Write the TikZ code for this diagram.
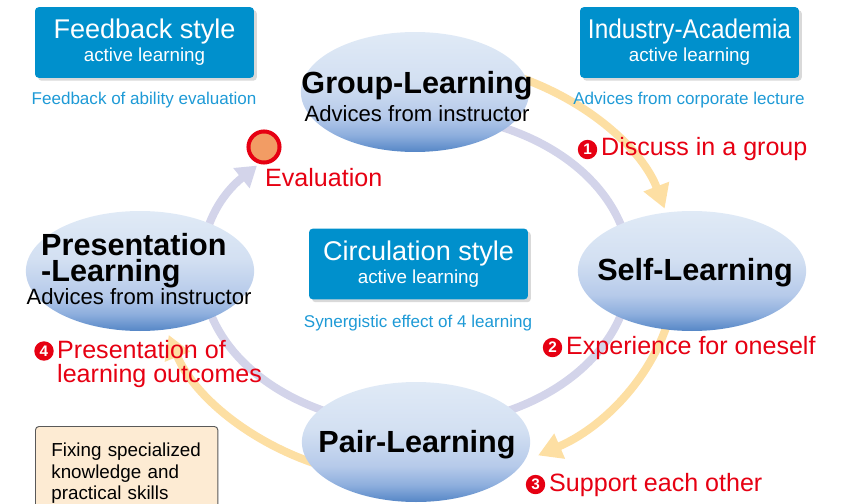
\documentclass[tikz,border=0pt]{standalone}
\usepackage{fontspec}
\setmainfont{Liberation Sans}
\usetikzlibrary{shapes.geometric,arrows.meta,positioning,shadows}

\definecolor{boxblue}{HTML}{0090CC}
\definecolor{capblue}{HTML}{1E9AD6}
\definecolor{evred}{HTML}{E60012}
\definecolor{lavloop}{HTML}{D3D4EA}
\definecolor{peach}{HTML}{FDDFA3}
\definecolor{evalfill}{HTML}{F29C64}
\definecolor{fixfill}{HTML}{FDEBD3}
\definecolor{elltop}{HTML}{E0EAF6}
\definecolor{ellhigh}{HTML}{D3E0F2}
\definecolor{ellmid}{HTML}{B6CAEA}
\definecolor{elllow}{HTML}{8DAEDD}
\definecolor{ellbot}{HTML}{5586C6}

\pgfdeclareverticalshading{learnshade}{100bp}{color(0bp)=(ellbot); color(25bp)=(ellbot);
	color(32bp)=(elllow); color(40bp)=(ellmid); color(55bp)=(ellhigh); color(75bp)=(elltop); color(100bp)=(elltop)}

\tikzset{
	stylebox/.style={fill=boxblue, rounded corners=3pt, text=white, align=center,
		minimum width=186pt, minimum height=60pt, inner sep=0pt,
		font=\fontsize{16}{19.5}\selectfont,
		drop shadow={shadow xshift=2.5pt, shadow yshift=-2.5pt, fill=black!15, opacity=1}},
	caption/.style={text=capblue, font=\fontsize{14.5}{16}\selectfont, inner sep=0pt, anchor=base},
	learnell/.style={ellipse, minimum width=194pt, minimum height=102pt, inner sep=0pt,
		shading=learnshade},
	learntitle/.style={font=\fontsize{26}{22}\selectfont\bfseries, inner sep=0pt},
	advice/.style={font=\fontsize{18.8}{20}\selectfont, inner sep=0pt, anchor=base},
	looparrow/.style={line width=6.8pt, color=lavloop, -{Triangle[width=21pt,length=17pt]}},
	peacharrow/.style={line width=6.8pt, color=peach, -{Triangle[width=22pt,length=20pt]}},
	stepnum/.style={circle, fill=evred, text=white, inner sep=0pt, minimum size=16.5pt,
		font=\fontsize{13}{13}\selectfont\bfseries},
	steplabel/.style={text=evred, font=\fontsize{21.3}{20.4}\selectfont, inner sep=0pt},
	fixbox/.style={draw=black!65, fill=fixfill, rounded corners=3pt, align=left,
		text width=128pt, inner xsep=13.5pt, inner ysep=14pt, line width=0.8pt,
		font=\fontsize{16}{18.3}\selectfont}
}

\begin{document}
\begin{tikzpicture}[x=0.85pt,y=-0.85pt]
	\useasboundingbox (0,0) rectangle (845,504);
	% circulation loop and step arrows
	\coordinate (mid) at (416,270);
	\draw[looparrow] (mid) ++(-110:214 and 156) arc[start angle=-110, end angle=222, x radius=214, y radius=156];
	\draw[peacharrow] (mid) ++(-66:260 and 210) arc[start angle=-66, end angle=-17, x radius=260, y radius=210];
	\draw[peacharrow] (mid) ++(14:260 and 210) arc[start angle=14, end angle=62, x radius=260, y radius=210];
	\draw[peacharrow] (mid) ++(112:260 and 210) arc[start angle=112, end angle=162, x radius=260, y radius=210];

	% the four learnings
	\node[learnell] (grp) at (415,92) {};
	\node[learnell] (slf) at (692,271) {};
	\node[learnell] (par) at (416,442) {};
	\node[learnell] (prs) at (140,271) {};
	\node[learntitle, anchor=base] (grpt) at (417,94) {Group-Learning};
	\node[advice] (grpa) at (417,122) {Advices from instructor};
	\node[learntitle, anchor=base] (slft) at (695,280) {Self-Learning};
	\node[learntitle, anchor=base] (part) at (417,452) {Pair-Learning};
	\node[learntitle, anchor=north west, align=left] (prst) at (41,233) {Presentation\\-Learning};
	\node[advice] (prsa) at (139,304) {Advices from instructor};

	% style boxes
	\node[stylebox] (fbk) at (144.5,42.5) {{\fontsize{23}{19.5}\selectfont Feedback style}\\active learning};
	\node[caption] (fbkc) at (144,105) {Feedback of ability evaluation};
	\node[stylebox] (ind) at (689.5,42.5) {{\fontsize{23}{19.5}\selectfont\addfontfeature{FakeStretch=0.9}Industry-Academia}\\active learning};
	\node[caption] (indc) at (689,105) {Advices from corporate lecture};
	\node[stylebox] (circ) at (418.5,264) {{\fontsize{23}{19.5}\selectfont Circulation style}\\active learning};
	\node[caption] (circc) at (418,327) {Synergistic effect of 4 learning};

	% evaluation
	\node[circle, draw=evred, line width=3.4pt, fill=evalfill, minimum size=26.4pt, inner sep=0pt] (eval) at (264,147) {};
	\node[steplabel, anchor=base west] (evalt) at (265,187) {Evaluation};

	% steps
	\node[steplabel, anchor=base west] (l1) at (601,156) {Discuss in a group};
	\node[stepnum, left=3pt of l1] (n1) {1};
	\node[steplabel, anchor=base west] (l2) at (566,354) {Experience for oneself};
	\node[stepnum, left=3pt of l2] (n2) {2};
	\node[steplabel, anchor=base west] (l3) at (549,491) {Support each other};
	\node[stepnum, left=3pt of l3] (n3) {3};
	\node[steplabel, anchor=north west, align=left] (l4) at (57,340) {Presentation of\\learning outcomes};
	\node[stepnum] (n4) at (44,351) {4};

	\node[fixbox, anchor=north west] (fix) at (35,426) {Fixing specialized\\knowledge and\\practical skills};
\end{tikzpicture}
\end{document}
